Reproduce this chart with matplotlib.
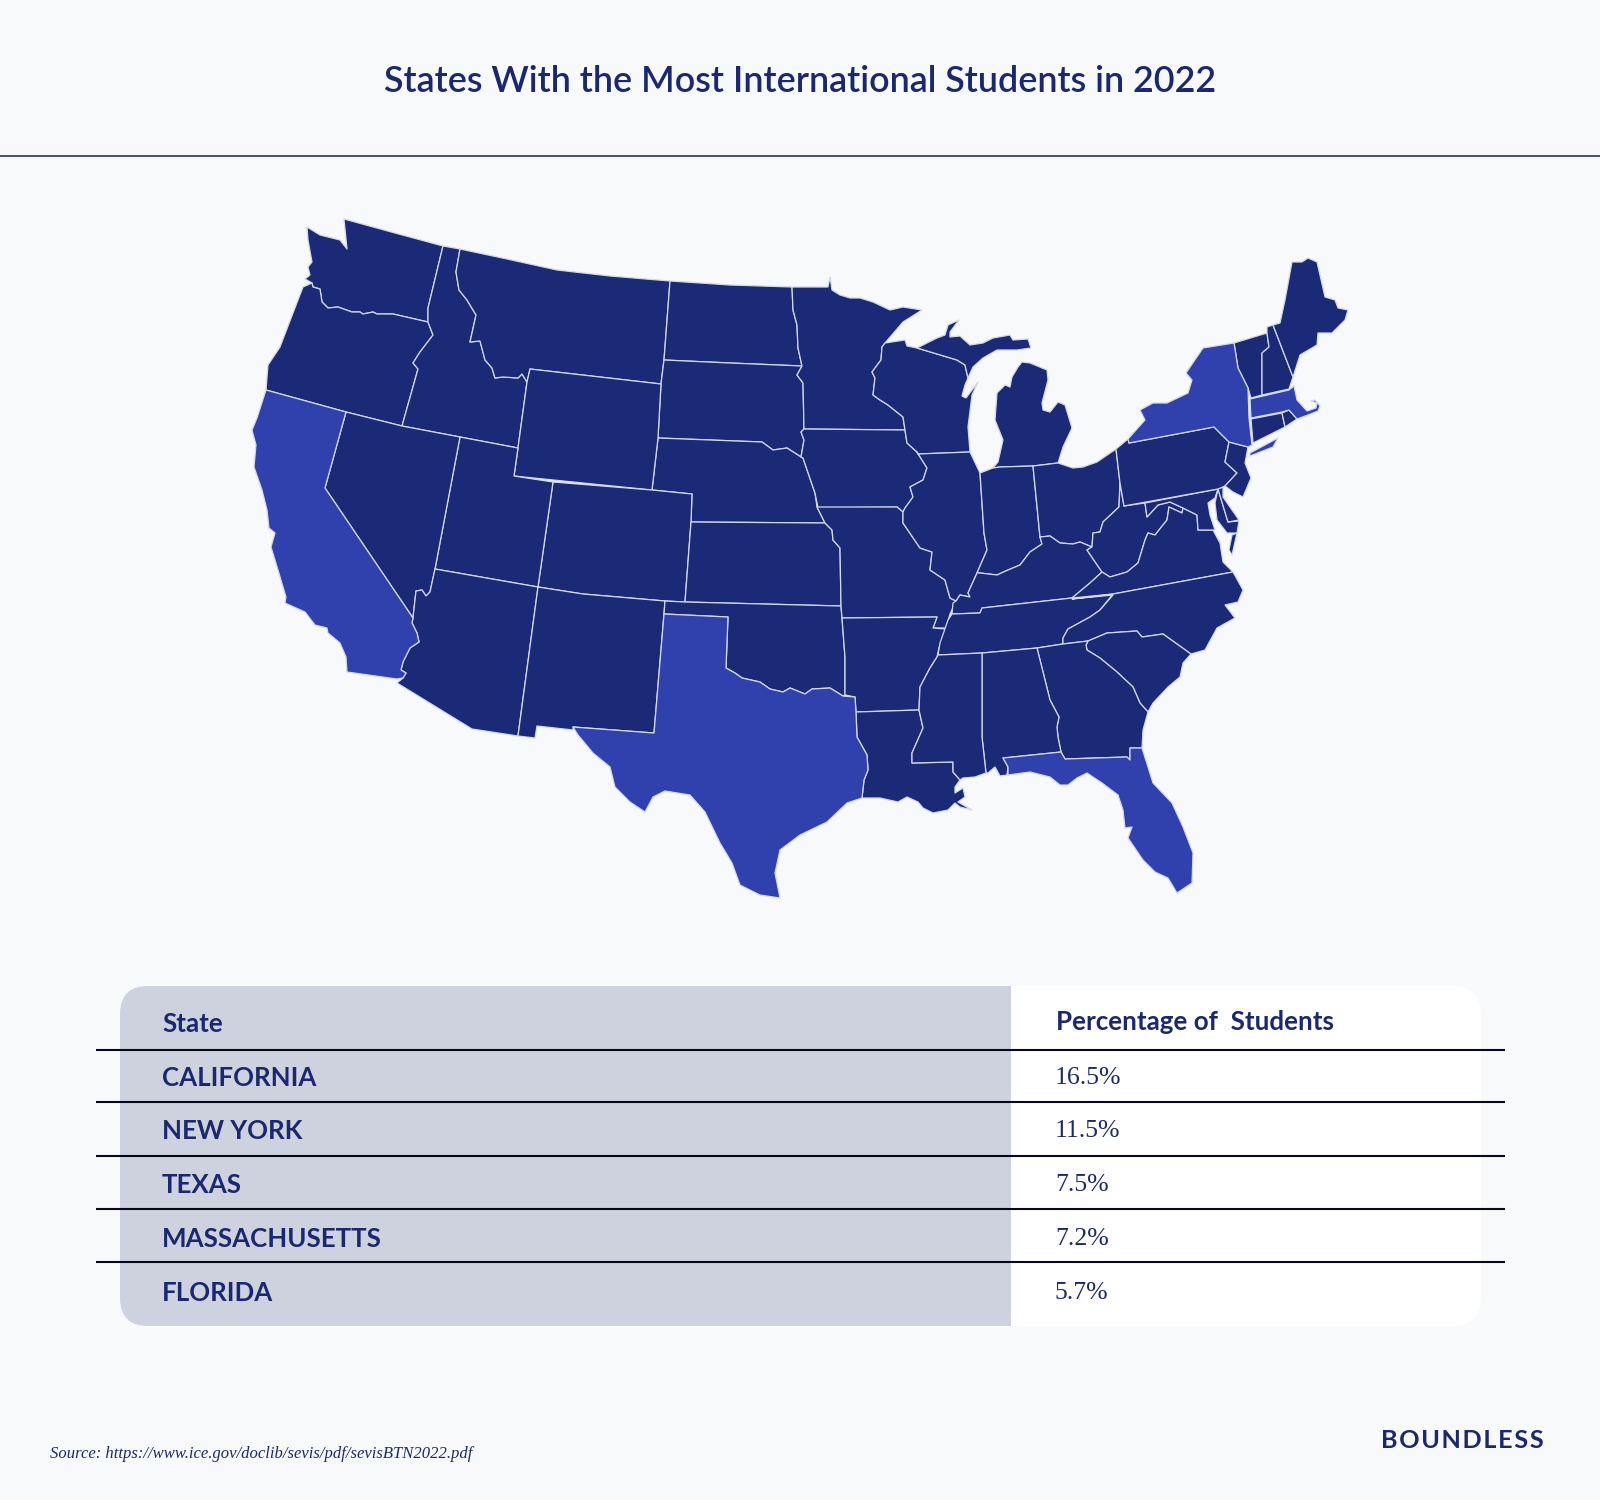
import matplotlib
matplotlib.use("Agg")
import matplotlib.pyplot as plt
from matplotlib.patches import Polygon, FancyBboxPatch, Rectangle

# colours
bg_color = "#f7f9fb"
navy = "#1b2a77"
highlight = "#3041ae"
border_color = "#d3d9e8"
grey_cell = "#ced2df"
text_color = "#1a2870"

# table content
title = "States With the Most International Students in 2022"
header_state = "State"
header_pct = "Percentage of  Students"
table_states = ["CALIFORNIA", "NEW YORK", "TEXAS", "MASSACHUSETTS", "FLORIDA"]
table_pcts = ["16.5%", "11.5%", "7.5%", "7.2%", "5.7%"]
source = "Source: https://www.ice.gov/doclib/sevis/pdf/sevisBTN2022.pdf"
brand = "B\u200aO\u200aU\u200aN\u200aD\u200aL\u200aE\u200aS\u200aS"

# state outlines (pixel coordinates)
washington = [(307,227),(320,235),(340,240),(347,249),(344,219),(395,233),(443,246),(428,308),(428,322),(393,314),(377,314),(373,312),(363,314),(360,312),(352,312),(338,307),(328,308),(322,302),(320,289),(313,287),(312,283),(305,279),(310,275),(308,267),(312,262),(308,240)]
oregon = [(312,283),(313,287),(320,289),(322,302),(328,308),(338,307),(352,312),(360,312),(363,314),(373,312),(377,314),(393,314),(428,322),(433,335),(420,352),(413,363),(418,369),(402,426),(346,412),(266,390),(268,365),(280,347),(293,313),(303,287)]
idaho = [(443,246),(460,249),(456,272),(459,290),(467,300),(476,315),(470,342),(480,341),(485,360),(492,368),(495,378),(503,377),(518,378),(522,374),(527,382),(518,448),(460,437),(402,426),(418,369),(413,363),(420,352),(433,335),(428,322),(428,308)]
montana = [(460,249),(507,259),(557,270),(610,276),(670,281),(664,360),(661,384),(530,369),(527,382),(522,374),(518,378),(503,377),(495,378),(492,368),(485,360),(480,341),(470,342),(476,315),(467,300),(459,290),(456,272)]
north_dakota = [(670,281),(730,285),(792,287),(793,310),(797,325),(798,348),(802,366),(730,363),(664,360)]
south_dakota = [(664,360),(730,363),(802,366),(797,375),(803,383),(804,429),(801,432),(804,440),(801,457),(787,448),(773,450),(762,442),(658,438),(661,384)]
nebraska = [(658,438),(762,442),(773,450),(787,448),(801,457),(803,458),(815,493),(817,507),(825,523),(691,522),(692,494),(652,490)]
wyoming = [(530,369),(661,384),(658,438),(652,490),(514,476),(518,448),(527,382)]
colorado = [(553,482),(652,490),(692,494),(691,522),(685,602),(665,601),(583,594),(538,587)]
kansas = [(691,522),(825,523),(832,530),(833,540),(840,548),(841,606),(685,602)]
utah = [(460,437),(518,448),(514,476),(553,482),(538,587),(435,569)]
nevada = [(346,412),(402,426),(460,437),(435,569),(430,592),(426,596),(422,590),(416,591),(415,600),(413,618),(325,488)]
california = [(266,390),(346,412),(325,488),(413,618),(412,623),(417,633),(419,642),(410,648),(403,662),(401,670),(406,673),(403,678),(397,679),(347,672),(346,657),(340,643),(328,633),(327,628),(315,625),(305,612),(285,603),(286,597),(278,570),(271,547),(275,533),(269,528),(267,510),(262,490),(254,467),(256,445),(252,430),(257,418)]
arizona = [(435,569),(538,587),(518,736),(472,729),(397,683),(403,678),(406,673),(401,670),(403,662),(410,648),(419,642),(417,633),(412,623),(413,618),(415,600),(416,591),(422,590),(426,596),(430,592)]
new_mexico = [(538,587),(583,594),(665,601),(664,614),(654,733),(573,727),(573,730),(537,726),(535,738),(518,736)]
oklahoma = [(665,601),(685,602),(841,606),(842,618),(845,657),(845,695),(843,696),(830,688),(812,689),(805,694),(790,688),(783,692),(770,689),(760,682),(742,678),(735,673),(726,668),(728,617),(664,614)]
texas = [(664,614),(728,617),(726,668),(735,673),(742,678),(760,682),(770,689),(783,692),(790,688),(805,694),(812,689),(830,688),(843,696),(855,697),(856,712),(857,737),(867,755),(868,770),(864,780),(862,798),(847,803),(827,822),(800,835),(780,850),(775,873),(780,898),(760,895),(740,885),(732,863),(720,843),(705,812),(690,795),(665,791),(653,797),(645,812),(630,802),(615,787),(610,767),(593,753),(578,735),(573,727),(654,733)]
minnesota = [(792,287),(828,287),(830,277),(832,290),(840,295),(850,298),(860,298),(873,302),(890,310),(903,307),(922,310),(903,322),(885,343),(882,347),(881,360),(872,372),(875,378),(873,395),(880,400),(888,405),(903,417),(905,430),(804,429),(803,383),(797,375),(802,366),(798,348),(797,325),(793,310)]
iowa = [(804,429),(905,430),(907,443),(917,452),(927,468),(923,480),(910,487),(913,497),(905,508),(903,512),(897,507),(818,508),(815,493),(803,458),(801,457),(804,440),(801,432)]
missouri = [(817,507),(897,507),(903,512),(903,523),(920,548),(932,552),(930,570),(945,580),(950,598),(956,601),(950,614),(946,628),(933,628),(937,617),(842,618),(841,606),(840,548),(833,540),(832,530),(825,523)]
arkansas = [(842,618),(937,617),(933,628),(946,629),(939,648),(937,657),(930,668),(920,687),(919,710),(856,712),(855,697),(845,695),(845,657)]
louisiana = [(856,712),(919,710),(923,728),(912,753),(912,763),(953,762),(953,772),(960,780),(955,787),(955,793),(963,788),(965,797),(958,802),(972,810),(960,807),(955,803),(948,810),(933,813),(923,808),(918,802),(907,797),(898,802),(880,798),(862,798),(864,780),(868,770),(867,755),(857,737)]
wisconsin = [(882,347),(885,343),(905,340),(907,346),(917,348),(957,360),(965,365),(968,378),(965,385),(962,396),(966,398),(978,382),(972,395),(968,427),(970,452),(918,454),(917,452),(907,443),(905,430),(903,417),(888,405),(880,400),(873,395),(875,378),(872,372),(881,360)]
illinois = [(918,454),(970,452),(980,473),(984,533),(987,550),(977,573),(968,593),(970,597),(960,595),(956,601),(950,598),(945,580),(930,570),(932,552),(920,548),(903,523),(903,512),(905,508),(913,497),(910,487),(923,480),(927,468),(917,452)]
michigan_upper = [(917,348),(927,343),(937,338),(945,335),(948,325),(959,320),(950,332),(950,337),(960,336),(970,345),(983,343),(993,338),(1010,335),(1013,340),(1028,339),(1031,348),(1017,350),(997,350),(983,358),(973,367),(968,378),(965,365),(957,360)]
michigan_lower = [(993,468),(998,462),(1003,440),(995,420),(997,393),(1005,385),(1010,387),(1012,377),(1018,367),(1022,362),(1030,363),(1047,370),(1048,380),(1042,403),(1043,410),(1050,412),(1058,402),(1065,405),(1072,428),(1063,447),(1058,463),(1033,466),(1000,467)]
indiana = [(980,473),(993,468),(1000,467),(1033,466),(1040,537),(1042,544),(1030,552),(1020,565),(1008,570),(997,575),(980,573),(977,573),(987,550),(984,533)]
ohio = [(1033,466),(1058,463),(1073,468),(1083,467),(1097,462),(1116,449),(1120,483),(1119,507),(1103,522),(1100,532),(1093,533),(1092,547),(1080,542),(1073,544),(1060,543),(1050,536),(1040,537)]
kentucky = [(1040,537),(1050,536),(1060,543),(1073,544),(1080,542),(1092,547),(1087,550),(1102,572),(1090,583),(1072,598),(982,608),(980,613),(952,614),(953,603),(956,601),(960,595),(970,597),(968,593),(977,573),(980,573),(997,575),(1008,570),(1020,565),(1030,552),(1042,544)]
tennessee = [(952,614),(980,613),(982,608),(1072,598),(1113,594),(1100,610),(1090,617),(1068,629),(1063,638),(1063,644),(1037,648),(982,653),(938,655),(940,643),(948,620)]
west_virginia = [(1120,483),(1124,506),(1145,503),(1147,517),(1158,505),(1170,502),(1183,508),(1182,513),(1169,507),(1167,520),(1155,535),(1148,533),(1145,540),(1138,563),(1127,572),(1110,577),(1102,572),(1087,550),(1092,547),(1093,533),(1100,532),(1103,522),(1119,507)]
virginia = [(1169,507),(1182,513),(1183,508),(1197,515),(1198,530),(1213,530),(1220,543),(1223,562),(1233,572),(1113,594),(1072,598),(1090,583),(1102,572),(1110,577),(1127,572),(1138,563),(1145,540),(1148,533),(1155,535),(1167,520)]
virginia_shore = [(1232,535),(1237,533),(1232,555),(1229,550)]
maryland_west = [(1145,503),(1218,489),(1215,498),(1208,503),(1210,515),(1215,530),(1198,530),(1197,515),(1183,508),(1170,502),(1158,505),(1147,517)]
maryland_east = [(1218,489),(1228,522),(1239,521),(1237,533),(1227,533),(1217,520),(1215,503)]
delaware = [(1218,489),(1223,487),(1223,497),(1239,520),(1228,522)]
pennsylvania = [(1116,449),(1128,439),(1129,443),(1214,427),(1227,440),(1229,442),(1225,462),(1237,473),(1225,486),(1218,489),(1124,506),(1120,483)]
new_jersey = [(1229,442),(1248,447),(1245,463),(1251,478),(1243,497),(1233,492),(1225,486),(1237,473),(1225,462)]
new_york = [(1129,443),(1128,439),(1145,420),(1140,410),(1153,403),(1167,403),(1188,393),(1192,380),(1186,373),(1203,348),(1234,343),(1238,368),(1248,388),(1249,418),(1252,445),(1248,447),(1229,442),(1227,440),(1214,427)]
long_island = [(1250,453),(1278,438),(1273,447),(1250,456)]
vermont = [(1234,343),(1267,333),(1269,347),(1262,353),(1262,395),(1251,398),(1248,388),(1238,368)]
new_hampshire = [(1267,327),(1273,325),(1293,377),(1289,389),(1262,395),(1262,353),(1269,347),(1267,333)]
maine = [(1273,325),(1280,323),(1285,300),(1292,262),(1302,262),(1308,258),(1317,262),(1325,297),(1335,300),(1338,308),(1348,310),(1345,320),(1332,333),(1318,333),(1317,345),(1300,355),(1293,377)]
massachusetts = [(1250,399),(1289,390),(1294,386),(1297,400),(1307,411),(1316,408),(1317,403),(1311,401),(1315,400),(1320,406),(1318,411),(1308,415),(1297,419),(1289,410),(1282,412),(1251,418)]
connecticut = [(1251,419),(1282,413),(1285,427),(1253,443)]
rhode_island = [(1282,413),(1289,410),(1297,419),(1285,427)]
north_carolina = [(1072,599),(1113,594),(1233,572),(1243,590),(1238,602),(1225,605),(1235,618),(1217,628),(1205,650),(1191,654),(1163,634),(1142,637),(1137,631),(1107,633),(1088,641),(1063,644),(1063,638),(1068,629),(1090,617),(1100,610),(1113,595)]
south_carolina = [(1088,641),(1107,633),(1137,631),(1142,637),(1163,634),(1191,654),(1183,663),(1180,677),(1168,687),(1153,703),(1148,712),(1140,703),(1133,687),(1117,672),(1100,658),(1087,650),(1086,645)]
georgia = [(1037,648),(1063,644),(1088,641),(1086,645),(1087,650),(1100,658),(1117,672),(1133,687),(1140,703),(1148,712),(1143,730),(1142,748),(1130,748),(1130,760),(1127,757),(1065,759),(1061,752),(1058,737),(1057,727),(1059,717),(1050,700)]
alabama = [(982,653),(1037,648),(1050,700),(1059,717),(1057,727),(1058,737),(1061,752),(1003,758),(1008,767),(1007,775),(1000,776),(995,767),(988,773),(986,773),(982,737)]
mississippi = [(938,655),(982,653),(982,737),(986,773),(975,777),(963,778),(960,780),(953,772),(953,762),(912,763),(912,753),(923,728),(919,710),(920,687),(930,668),(937,657)]
florida = [(1003,758),(1061,752),(1065,759),(1127,757),(1130,760),(1130,748),(1142,748),(1153,783),(1172,803),(1183,827),(1193,853),(1192,883),(1177,893),(1168,878),(1155,872),(1143,860),(1128,838),(1132,827),(1125,828),(1123,810),(1118,795),(1102,783),(1087,773),(1077,778),(1068,785),(1060,785),(1050,777),(1030,772),(1008,775),(1008,767)]

dark_states = [washington, oregon, idaho, montana, north_dakota, south_dakota, nebraska, wyoming, colorado, kansas,
               utah, nevada, arizona, new_mexico, oklahoma, minnesota, iowa, missouri, arkansas, louisiana, wisconsin,
               illinois, michigan_upper, michigan_lower, indiana, ohio, kentucky, tennessee, west_virginia, virginia,
               virginia_shore, maryland_west, maryland_east, delaware, pennsylvania, new_jersey, vermont,
               new_hampshire, maine, connecticut, rhode_island, north_carolina, south_carolina, georgia, alabama,
               mississippi]
top_states = [california, new_york, long_island, texas, massachusetts, florida]

plt.rcParams["font.family"] = ["Lato", "DejaVu Sans"]

fig = plt.figure(figsize=(16, 15), dpi=100, facecolor=bg_color)
ax = fig.add_axes([0, 0, 1, 1])
ax.set_xlim(0, 1600)
ax.set_ylim(1500, 0)
ax.axis("off")

# header
ax.text(800, 82, title, fontsize=25.8, fontweight="semibold", color=text_color, ha="center", va="center")
ax.plot([0, 1600], [156, 156], color="#15204f", lw=1.1)

# map
for shape in dark_states:
    ax.add_patch(Polygon(shape, closed=True, facecolor=navy, edgecolor=border_color, lw=0.9, joinstyle="round"))
for shape in top_states:
    ax.add_patch(Polygon(shape, closed=True, facecolor=highlight, edgecolor=border_color, lw=0.9, joinstyle="round"))

# table background
table_left, table_split, table_right = 120, 1011, 1481
table_top, table_bottom = 986, 1326
radius = 28
white_box = FancyBboxPatch((table_left + radius, table_top + radius), table_right - table_left - 2 * radius,
                           table_bottom - table_top - 2 * radius, boxstyle=f"round,pad={radius},rounding_size={radius}",
                           facecolor="white", edgecolor="none")
ax.add_patch(white_box)
grey_box = FancyBboxPatch((table_left + radius, table_top + radius), table_right - table_left - 2 * radius,
                          table_bottom - table_top - 2 * radius, boxstyle=f"round,pad={radius},rounding_size={radius}",
                          facecolor=grey_cell, edgecolor="none")
ax.add_patch(grey_box)
grey_box.set_clip_path(Rectangle((0, 0), table_split, 1500, transform=ax.transData))

# table text
row_lines = [1050, 1102, 1156, 1209, 1262]
row_centers = [1078, 1131, 1185, 1239, 1293]
for y in row_lines:
    ax.plot([96, 1505], [y, y], color="#08081c", lw=1.5, solid_capstyle="butt")

ax.text(162, 1024, header_state, fontsize=18.7, fontweight="bold", color=text_color, va="center")
ax.text(1056, 1022, header_pct, fontsize=18.7, fontweight="bold", color=text_color, va="center")
for name, pct, y in zip(table_states, table_pcts, row_centers):
    ax.text(162, y, name, fontsize=18.6, fontweight="bold", color=text_color, va="center")
    ax.text(1055, y, pct, fontsize=18.5, family="Liberation Serif", color=text_color, va="center")

# footer
ax.text(50, 1454, source, fontsize=12, family="Liberation Serif", style="italic", color=text_color, va="center")
ax.text(1544, 1441, brand, fontsize=18.2, fontweight="bold", color=text_color, ha="right", va="center")

fig.savefig("out.png", dpi=100, facecolor=bg_color)
